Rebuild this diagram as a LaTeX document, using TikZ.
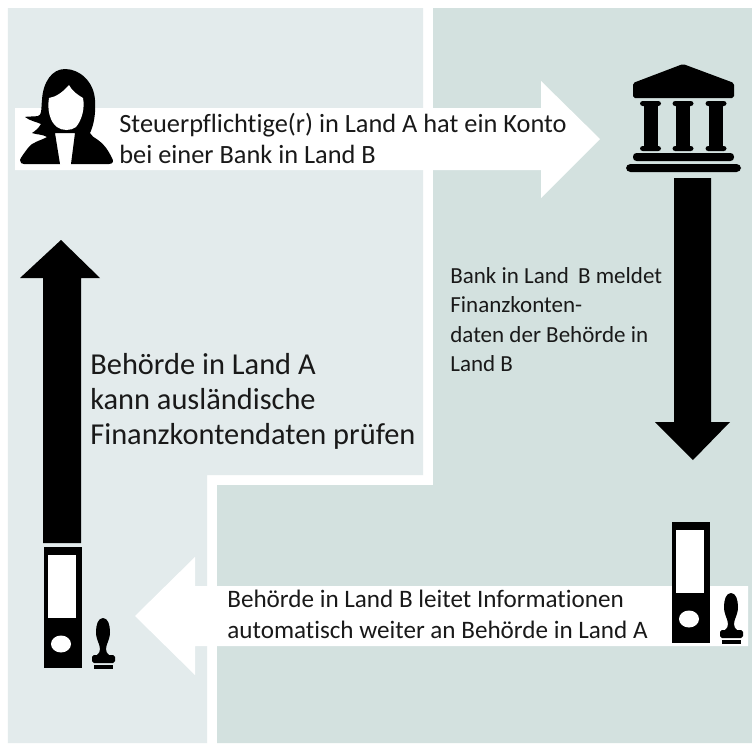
\documentclass[tikz,border=0pt]{standalone}
\usepackage{fontspec}
\setmainfont[Ligatures=NoCommon]{Carlito}
\definecolor{lightpanel}{HTML}{E3EBEC}
\definecolor{darkpanel}{HTML}{D3E1DF}
\tikzset{
  px/.style={x=0.02cm,y=-0.02cm},
  caption/.style={anchor=north west,align=left,inner sep=0pt,text=black!90}
}
\newcommand{\binderat}[2]{%
  \begin{scope}[shift={(#1,#2)}]
    \fill[black] (0,0) rectangle (38,121);
    \fill[white] (4,8) rectangle (32,71);
    \fill[white] (17,97) ellipse (10 and 8.5);
    \fill[black] (59,71) .. controls (54,71) and (52,78) .. (52,85)
       .. controls (52,93) and (56,97) .. (56,102) .. controls (56,105) and (55,106) .. (53,108)
       -- (65,108) .. controls (63,106) and (62,105) .. (62,102)
       .. controls (62,97) and (66,93) .. (66,85) .. controls (66,78) and (64,71) .. (59,71) -- cycle;
    \fill[black,rounded corners=1] (48,108) rectangle (71,116);
    \fill[black] (50,118) rectangle (69,122);
  \end{scope}}
\begin{document}
\begin{tikzpicture}[px]
\useasboundingbox (0,0) rectangle (752,744);
\fill[white] (0,0) rectangle (752,744);
\fill[lightpanel] (8,8) -- (423,8) -- (423,475) -- (207,475) -- (207,743) -- (8,743) -- cycle;
\fill[darkpanel] (433,8) -- (752,8) -- (752,743) -- (217,743) -- (217,485) -- (433,485) -- cycle;
% white arrows
\fill[white] (15,108) -- (541,108) -- (541,81) -- (600,139) -- (541,198) -- (541,170) -- (15,170) -- cycle;
\fill[white] (748,586) -- (195,586) -- (195,557) -- (135,616) -- (195,675) -- (195,646) -- (748,646) -- cycle;
% black arrows
\fill[black] (43,543) -- (43,278) -- (20,278) -- (61,240) -- (100,278) -- (81,278) -- (81,543) -- cycle;
\fill[black] (674,178) -- (711,178) -- (711,422) -- (730,422) -- (693,460) -- (655,422) -- (674,422) -- cycle;
% person
\fill[black] (65,69) .. controls (52,69) and (43,82) .. (42,100) .. controls (41,110) and (42,115) .. (38,116)
  .. controls (33,117) and (29,116) .. (25,117) .. controls (30,121) and (37,122) .. (41,124)
  .. controls (38,129) and (35,131) .. (32,133) .. controls (38,135) and (42,134) .. (47,137)
  .. controls (40,141) and (32,142) .. (28,148) .. controls (25,152) and (21,157) .. (20,160)
  .. controls (20,163) and (22,164) .. (24,164) -- (60,164) -- (55,133) -- (75,133) -- (71,164) -- (109,164)
  .. controls (113,164) and (114,161) .. (112,158) .. controls (108,150) and (104,144) .. (98,140)
  .. controls (94,137) and (91,136) .. (90,133) .. controls (94,125) and (96,112) .. (95,100)
  .. controls (94,82) and (80,69) .. (65,69) -- cycle;
\fill[white] (69,85) .. controls (63,92) and (56,97) .. (49,98) .. controls (47,110) and (50,122) .. (57,127)
  .. controls (62,131) and (71,131) .. (76,127) .. controls (82,120) and (85,108) .. (83,98)
  .. controls (78,95) and (72,91) .. (69,85) -- cycle;
% bank
\fill[black,rounded corners=1] (683,64) -- (734,83) -- (734,98) -- (633,98) -- (633,83) -- cycle;
\foreach \cx in {650.5,683,716}{
  \fill[black,rounded corners=1.5] (\cx-10.5,101) rectangle (\cx+10.5,106);
  \fill[black] (\cx-7,103) rectangle (\cx+7,149);
  \fill[black,rounded corners=1.5] (\cx-10.5,146) rectangle (\cx+10.5,151);
}
\fill[black,rounded corners=2] (633,153) rectangle (734,161);
\fill[black,rounded corners=2.5] (626,164) rectangle (741,172);
% binders
\binderat{44}{547}
\binderat{672}{522}
% texts
\node[caption,font=\fontsize{15}{17.3}\selectfont] (t1) at (119,113) {Steuerpflichtige(r) in Land A hat ein Konto\\bei einer Bank in Land B};
\node[caption,font=\fontsize{13.1}{16.8}\selectfont] (t2) at (450,267) {Bank in Land\, B meldet\\Finanzkonten-\\daten der Behörde in\\Land B};
\node[caption,font=\fontsize{17.3}{19.8}\selectfont] (t3) at (90,353) {Behörde in Land A\\kann ausländische\\Finanzkontendaten prüfen};
\node[caption,font=\fontsize{14.3}{17.5}\selectfont] (t4) at (227,590) {Behörde in Land B leitet Informationen\\automatisch weiter an Behörde in Land A};
\end{tikzpicture}
\end{document}
